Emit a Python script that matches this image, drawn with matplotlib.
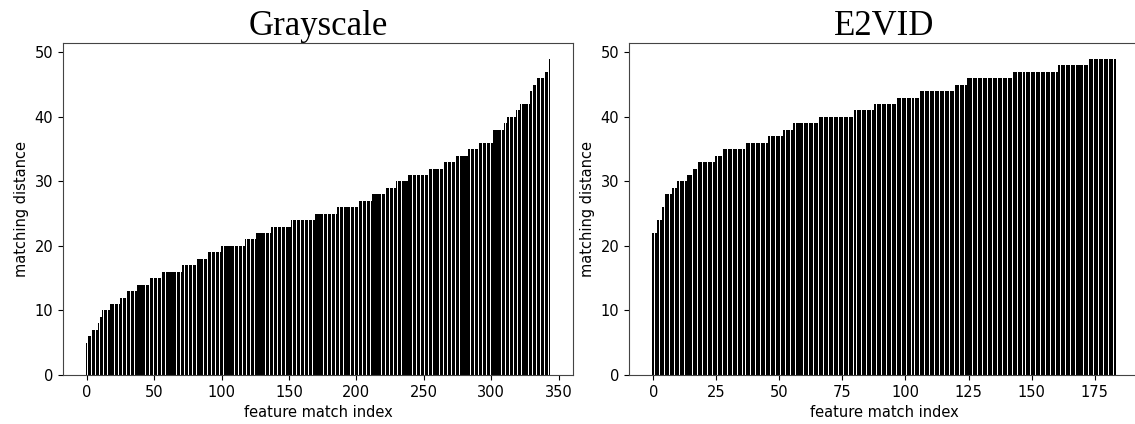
import numpy as np
import matplotlib
matplotlib.use("Agg")
import matplotlib.pyplot as plt

# Grayscale: matching distance levels and how many matches at each (sorted ascending)
gray_dist = [5, 6, 7, 8, 9, 10, 11, 12, 13, 14, 15, 16, 17, 18, 19, 20, 21, 22, 23, 24,
             25, 26, 27, 28, 29, 30, 31, 32, 33, 34, 35, 36, 38, 39, 40, 41, 42, 44, 45, 46,
             47, 49]
gray_count = [1, 3, 5, 1, 2, 6, 7, 5, 8, 9, 9, 15, 11, 8, 10, 18, 8, 11, 15, 18,
              16, 16, 10, 10, 8, 9, 15, 11, 9, 9, 8, 11, 8, 2, 7, 3, 7, 2, 3, 6,
              3, 1]

# E2VID
e2vid_dist = [22, 24, 26, 28, 29, 30, 31, 32, 33, 34, 35, 36, 37, 38, 39, 40, 41, 42,
              43, 44, 45, 46, 47, 48, 49]
e2vid_count = [2, 2, 1, 3, 2, 4, 2, 2, 7, 3, 9, 9, 6, 4, 10, 14, 8, 9,
               9, 14, 5, 18, 18, 12, 11]

titles = ["Grayscale", "E2VID"]
xlabel = "feature match index"
ylabel = "matching distance"

gray = np.repeat(gray_dist, gray_count)
e2vid = np.repeat(e2vid_dist, e2vid_count)

W, H = 1135, 424
fig = plt.figure(figsize=(W / 100, H / 100), dpi=100)
ax1 = fig.add_axes([63 / W, (H - 375) / H, 510 / W, 332 / H])
ax2 = fig.add_axes([629 / W, (H - 375) / H, 510 / W, 332 / H])

for ax, data, title, xt in [(ax1, gray, titles[0], [0, 50, 100, 150, 200, 250, 300, 350]),
                            (ax2, e2vid, titles[1], [0, 25, 50, 75, 100, 125, 150, 175])]:
    ax.bar(np.arange(len(data)), data, color="black", width=0.8, linewidth=0)
    ax.set_title(title, fontsize=25, family="Liberation Serif", pad=6)
    ax.set_xlabel(xlabel, fontsize=10.5)
    ax.set_ylabel(ylabel, fontsize=10.5)
    ax.set_xticks(xt)
    ax.set_yticks([0, 10, 20, 30, 40, 50])
    ax.tick_params(labelsize=10.5)
    for s in ax.spines.values():
        s.set_color("#444444")

fig.savefig("out.png", dpi=100)
